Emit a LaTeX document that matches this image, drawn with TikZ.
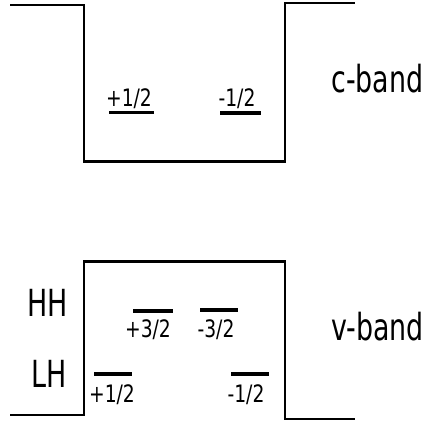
\documentclass[tikz,border=0pt]{standalone}
\usepackage{fontspec}
\newfontfamily\bandfont[FakeStretch=0.72]{DejaVu Sans}
\newfontfamily\spinfont[FakeStretch=0.78]{DejaVu Sans}
\usetikzlibrary{math}

\tikzset{
  edge/.style={line width=2.2pt, line join=miter},
  level/.style={line width=2.4pt},
  bandlabel/.style={font=\bandfont\fontsize{28}{28}\selectfont, inner sep=0pt},
  spinlabel/.style={font=\spinfont\fontsize{18}{18}\selectfont, inner sep=0pt}
}

\begin{document}
\begin{tikzpicture}[x=0.75pt, y=-0.75pt]
\tikzmath{
\bandxl=10;
\bandxa=84;
\bandxb=285;
\bandxr=355;
\cbfloor=161.5;
\vbroof=261.5;
}
\useasboundingbox (0,0) rectangle (431,423);

%conduction band
\draw[edge] (\bandxl,5) -- (\bandxa,5) -- (\bandxa,\cbfloor) -- (\bandxb,\cbfloor) -- (\bandxb,3) -- (\bandxr,3);
\node[bandlabel, anchor=base west] (cband) at (331,93) {c-band};

%electron levels
\draw[level] (109,112.5) -- (154,112.5);
\node[spinlabel, anchor=base] (cup) at (129,107) {+1/2};
\draw[level] (220,113) -- (261,113);
\node[spinlabel, anchor=base] (cdown) at (237,107) {-1/2};

%valence band
\draw[edge] (\bandxl,415) -- (\bandxa,415) -- (\bandxa,\vbroof) -- (\bandxb,\vbroof) -- (\bandxb,419) -- (\bandxr,419);
\node[bandlabel, anchor=base west] (vband) at (331,340) {v-band};
\node[bandlabel, anchor=base east] (hh) at (68,316) {HH};
\node[bandlabel, anchor=base east] (lh) at (67,387) {LH};

%hole levels
\draw[level] (133,311) -- (173,311);
\node[spinlabel, anchor=base] (hhup) at (148,337) {+3/2};
\draw[level] (200,310) -- (238,310);
\node[spinlabel, anchor=base] (hhdown) at (216,337) {-3/2};
\draw[level] (94,374) -- (132,374);
\node[spinlabel, anchor=base] (lhup) at (112,402) {+1/2};
\draw[level] (231,374) -- (269,374);
\node[spinlabel, anchor=base] (lhdown) at (246,402) {-1/2};
\end{tikzpicture}
\end{document}
